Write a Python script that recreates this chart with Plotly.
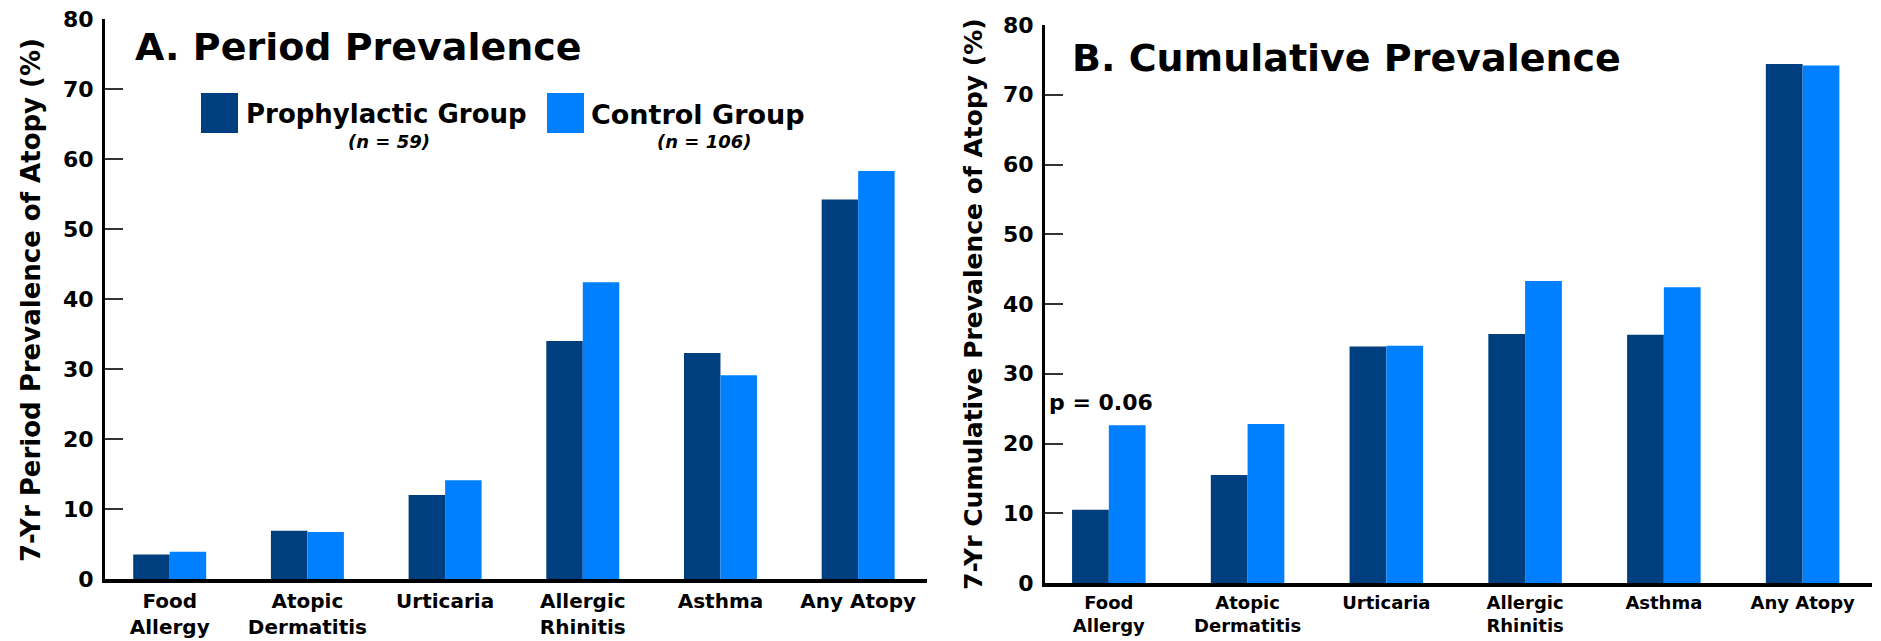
import plotly.graph_objects as go

categories = ["Food<br>Allergy", "Atopic<br>Dermatitis", "Urticaria", "Allergic<br>Rhinitis", "Asthma", "Any Atopy"]
period_prophylactic = [3.5, 6.9, 12.0, 34.0, 32.3, 54.2]
period_control = [3.9, 6.7, 14.1, 42.4, 29.1, 58.3]
cumulative_prophylactic = [10.5, 15.5, 33.9, 35.7, 35.6, 74.4]
cumulative_control = [22.6, 22.8, 34.0, 43.3, 42.4, 74.2]
y_ticks = [0, 10, 20, 30, 40, 50, 60, 70, 80]

DARK = "#003F7F"
LIGHT = "#0080FF"
FONT = "DejaVu Sans"
W, H = 1881, 641

def px(x):
    return x / W

def py(y):
    return 1 - y / H

fig = go.Figure()
xs = list(range(len(categories)))
fig.add_trace(go.Bar(x=xs, y=period_prophylactic, marker=dict(color=DARK, line=dict(width=0)),
                     name="Prophylactic Group", xaxis="x", yaxis="y", showlegend=False))
fig.add_trace(go.Bar(x=xs, y=period_control, marker=dict(color=LIGHT, line=dict(width=0)),
                     name="Control Group", xaxis="x", yaxis="y", showlegend=False))
fig.add_trace(go.Bar(x=xs, y=cumulative_prophylactic, marker=dict(color=DARK, line=dict(width=0)),
                     name="Prophylactic Group", xaxis="x2", yaxis="y2", showlegend=False))
fig.add_trace(go.Bar(x=xs, y=cumulative_control, marker=dict(color=LIGHT, line=dict(width=0)),
                     name="Control Group", xaxis="x2", yaxis="y2", showlegend=False))

tickfont = dict(family=FONT, size=22, color="black", weight="bold")

def xaxis(domain, rng, anchor, size, standoff):
    return dict(domain=domain, range=rng, anchor=anchor, tickmode="array", tickvals=xs,
                ticktext=categories, tickfont=dict(family=FONT, size=size, color="black", weight="bold"),
                showline=True, linecolor="black",
                linewidth=4, ticks="", showgrid=False, zeroline=False, fixedrange=True,
                ticklabelstandoff=standoff, automargin=False)

def yaxis(domain, anchor):
    return dict(domain=domain, range=[0, 80], anchor=anchor, tickmode="array", tickvals=y_ticks,
                tickfont=tickfont, showline=True, linecolor="black", linewidth=3,
                ticks="inside", ticklen=18, tickwidth=1.5, tickcolor="#333333",
                showgrid=False, zeroline=False, ticklabelstandoff=4, automargin=False)

fig.update_layout(
    width=W, height=H,
    margin=dict(l=0, r=0, t=0, b=0, autoexpand=False),
    paper_bgcolor="white", plot_bgcolor="white",
    barmode="group", bargap=0.47, bargroupgap=0,
    xaxis=xaxis([px(105), px(927)], [-0.47, 5.5], "y", 20, 1),
    yaxis=yaxis([py(579), py(19)], "x"),
    xaxis2=xaxis([px(1045), px(1872)], [-0.46, 5.5], "y2", 18, 0),
    yaxis2=yaxis([py(583), py(25)], "x2"),
    font=dict(family=FONT, color="black"),
)

ann = []
# panel titles
ann.append(dict(text="<b>A. Period Prevalence</b>", xref="paper", yref="paper", x=px(133), y=py(47),
                xanchor="left", yanchor="middle", showarrow=False, font=dict(family=FONT, size=38)))
ann.append(dict(text="<b>B. Cumulative Prevalence</b>", xref="paper", yref="paper", x=px(1070), y=py(58),
                xanchor="left", yanchor="middle", showarrow=False, font=dict(family=FONT, size=38)))
# y-axis titles
ann.append(dict(text="<b>7-Yr Period Prevalence of Atopy (%)</b>", xref="paper", yref="paper",
                x=px(31), y=py(300), textangle=-90, xanchor="center", yanchor="middle",
                showarrow=False, font=dict(family=FONT, size=26)))
ann.append(dict(text="<b>7-Yr Cumulative Prevalence of Atopy (%)</b>", xref="paper", yref="paper",
                x=px(973), y=py(304), textangle=-90, xanchor="center", yanchor="middle",
                showarrow=False, font=dict(family=FONT, size=25)))
# legend text
ann.append(dict(text="<b>Prophylactic Group</b>", xref="paper", yref="paper", x=px(244), y=py(114),
                xanchor="left", yanchor="middle", showarrow=False, font=dict(family=FONT, size=26)))
ann.append(dict(text="<b>Control Group</b>", xref="paper", yref="paper", x=px(589), y=py(114),
                xanchor="left", yanchor="middle", showarrow=False, font=dict(family=FONT, size=27)))
ann.append(dict(text="<b><i>(n = 59)</i></b>", xref="paper", yref="paper", x=px(389), y=py(142),
                xanchor="center", yanchor="middle", showarrow=False, font=dict(family=FONT, size=18)))
ann.append(dict(text="<b><i>(n = 106)</i></b>", xref="paper", yref="paper", x=px(704), y=py(142),
                xanchor="center", yanchor="middle", showarrow=False, font=dict(family=FONT, size=18)))
# p-value annotation
ann.append(dict(text="<b>p = 0.06</b>", xref="x2", yref="y2", x=-0.06, y=25.9,
                xanchor="center", yanchor="middle", showarrow=False, font=dict(family=FONT, size=22)))
fig.update_layout(annotations=ann)

shapes = [
    dict(type="rect", xref="paper", yref="paper", x0=px(201), x1=px(238), y0=py(133), y1=py(93),
         fillcolor=DARK, line=dict(width=0)),
    dict(type="rect", xref="paper", yref="paper", x0=px(547), x1=px(584), y0=py(133), y1=py(93),
         fillcolor=LIGHT, line=dict(width=0)),
]
fig.update_layout(shapes=shapes)

fig.write_html("out.html")
